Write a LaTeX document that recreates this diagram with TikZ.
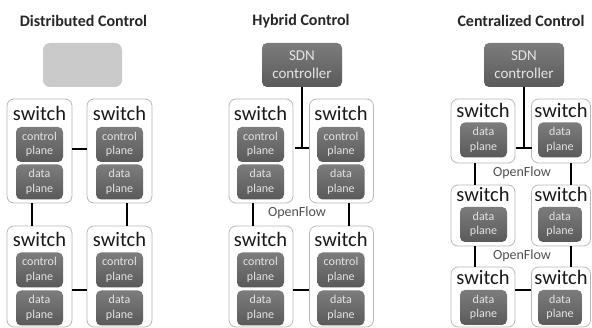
\documentclass[tikz,border=0pt]{standalone}
\usepackage{fontspec}
\setmainfont{Carlito}
\definecolor{G1}{RGB}{202,202,202}
\definecolor{G2}{RGB}{124,124,124}
\definecolor{G3}{RGB}{90,90,90}
\definecolor{G4}{RGB}{184,184,184}
\definecolor{T1}{RGB}{228,228,228}
\definecolor{T2}{RGB}{80,80,80}
\tikzstyle{sw}=[shape=rectangle, rounded corners=7pt, draw=G4, line width=0.8pt, fill=white, inner sep=0]
\tikzstyle{plane}=[shape=rectangle, rounded corners=5pt, top color=G2, bottom color=G3, text=T1, align=center, inner sep=0, minimum width=47pt, minimum height=35pt, font=\fontsize{12}{14.5}\selectfont]
\tikzstyle{ctl}=[plane, minimum width=80pt, minimum height=44pt, font=\fontsize{15}{18}\selectfont]
\tikzstyle{swtext}=[font=\fontsize{20.5}{22}\selectfont, text=black!90, inner sep=0]
\tikzstyle{paneltitle}=[font=\fontsize{16}{18}\selectfont\bfseries, text=black!85, inner sep=0]
\tikzstyle{oflabel}=[font=\fontsize{14}{16}\selectfont, text=T2, inner sep=0]
\tikzstyle{link}=[line width=1.5pt, black]
\begin{document}
\begin{tikzpicture}[x=1pt, y=-1pt]
  \useasboundingbox (0,0) rectangle (592,328);
  % distributed
  \node[paneltitle] (dt) at (83.5,21) {Distributed Control};
  \node[shape=rectangle, rounded corners=7pt, fill=G1, minimum width=79pt, minimum height=44pt] (dc) at (82.5,65) {};
  \node[sw, minimum width=65pt, minimum height=104pt] (ds1) at (39.5,151) {};
  \node[sw, minimum width=65pt, minimum height=104pt] (ds2) at (119.5,151) {};
  \node[sw, minimum width=65pt, minimum height=101pt] (ds3) at (39.5,276.5) {};
  \node[sw, minimum width=65pt, minimum height=101pt] (ds4) at (119.5,276.5) {};
  \foreach \x/\i in {39.5/1,119.5/2}{
    \node[swtext] (dst\i) at (\x,113) {switch};
    \node[plane] (dcp\i) at (\x,144.5) {control\\plane};
    \node[plane] (ddp\i) at (\x,182) {data\\plane};
  }
  \foreach \x/\i in {39.5/3,119.5/4}{
    \node[swtext] (dst\i) at (\x,239) {switch};
    \node[plane] (dcp\i) at (\x,270) {control\\plane};
    \node[plane] (ddp\i) at (\x,308) {data\\plane};
  }
  \draw[link] ([yshift=2pt]ds1.east) -- ([yshift=2pt]ds2.west);
  \draw[link] ([xshift=-7.5pt]ds1.south) -- ([xshift=-7.5pt]ds3.north);
  \draw[link] ([xshift=7.5pt]ds2.south) -- ([xshift=7.5pt]ds4.north);
  \draw[link] ([yshift=-13.5pt]ds3.east) -- ([yshift=-13.5pt]ds4.west);
  % hybrid
  \node[paneltitle] (ht) at (301,21) {Hybrid Control};
  \node[ctl] (hc) at (302,65) {SDN\\controller};
  \node[sw, minimum width=64pt, minimum height=104pt] (hs1) at (261,151) {};
  \node[sw, minimum width=64pt, minimum height=104pt] (hs2) at (341.5,151) {};
  \node[sw, minimum width=64pt, minimum height=101pt] (hs3) at (261,276.5) {};
  \node[sw, minimum width=64pt, minimum height=101pt] (hs4) at (341.5,276.5) {};
  \foreach \x/\i in {260.5/1,341/2}{
    \node[swtext] (hst\i) at (\x,113) {switch};
    \node[plane] (hcp\i) at (\x,144.5) {control\\plane};
    \node[plane] (hdp\i) at (\x,182) {data\\plane};
  }
  \foreach \x/\i in {260.5/3,341/4}{
    \node[swtext] (hst\i) at (\x,239) {switch};
    \node[plane] (hcp\i) at (\x,270) {control\\plane};
    \node[plane] (hdp\i) at (\x,308) {data\\plane};
  }
  \coordinate (hj) at ([yshift=-61pt]hc.south);
  \draw[link] (hc.south) -- (hj);
  \draw[link] ([xshift=-7pt]hj) -- ([xshift=7pt]hj);
  \draw[link] ([xshift=-8pt]hs1.south) -- ([xshift=-8pt]hs3.north);
  \draw[link] ([xshift=7.5pt]hs2.south) -- ([xshift=7.5pt]hs4.north);
  \draw[link] ([yshift=-13.5pt]hs3.east) -- ([yshift=-13.5pt]hs4.west);
  \node[oflabel] (hof) at (297,213) {OpenFlow};
  % centralized
  \node[paneltitle] (ct) at (521,21) {Centralized Control};
  \node[ctl] (cc) at (524,65) {SDN\\controller};
  \node[sw, minimum width=64pt, minimum height=64pt] (cs1) at (483,131) {};
  \node[sw, minimum width=59pt, minimum height=64pt] (cs2) at (561,131) {};
  \node[sw, minimum width=64pt, minimum height=61pt] (cs3) at (483,215.5) {};
  \node[sw, minimum width=59pt, minimum height=61pt] (cs4) at (561,215.5) {};
  \node[sw, minimum width=64pt, minimum height=60pt] (cs5) at (483,297) {};
  \node[sw, minimum width=59pt, minimum height=60pt] (cs6) at (561,297) {};
  \foreach \y/\d/\i/\j in {110/140/1/2,194/224.5/3/4,277/307.5/5/6}{
    \node[swtext] (cst\i) at (483,\y) {switch};
    \node[swtext] (cst\j) at (561,\y) {switch};
    \node[plane] (cdp\i) at (483.5,\d) {data\\plane};
    \node[plane, minimum width=44pt] (cdp\j) at (560,\d) {data\\plane};
  }
  \coordinate (cj) at ([yshift=-61pt]cc.south);
  \draw[link] (cc.south) -- (cj);
  \draw[link] ([xshift=-8pt]cj) -- ([xshift=8pt]cj);
  \draw[link] ([xshift=-8pt]cs1.south) -- ([xshift=-8pt]cs3.north);
  \draw[link] ([xshift=10pt]cs2.south) -- ([xshift=10pt]cs4.north);
  \draw[link] ([xshift=-8pt]cs3.south) -- ([xshift=-8pt]cs5.north);
  \draw[link] ([xshift=10pt]cs4.south) -- ([xshift=10pt]cs6.north);
  \draw[link] ([yshift=7pt]cs5.east) -- ([yshift=7pt]cs6.west);
  \node[oflabel] (cof1) at (522,173) {OpenFlow};
  \node[oflabel] (cof2) at (522,256) {OpenFlow};
\end{tikzpicture}
\end{document}
